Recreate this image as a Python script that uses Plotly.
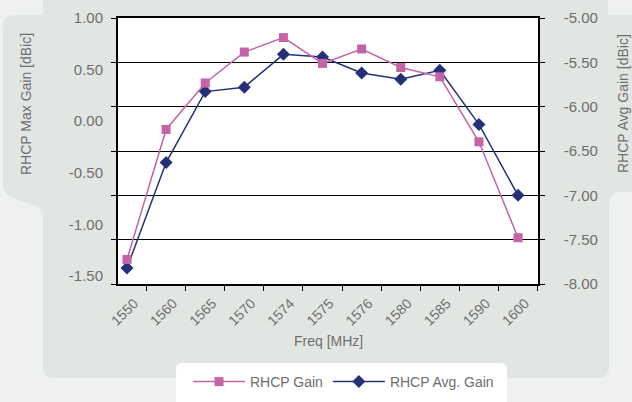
import plotly.graph_objects as go

freqs = ["1550", "1560", "1565", "1570", "1574", "1575", "1576", "1580", "1585", "1590", "1600"]
max_gain = [-1.34, -0.08, 0.37, 0.67, 0.81, 0.56, 0.70, 0.52, 0.43, -0.20, -1.13]
avg_gain = [-7.82, -6.63, -5.83, -5.78, -5.41, -5.44, -5.62, -5.69, -5.59, -6.20, -7.00]
left_ticks = [1.0, 0.5, 0.0, -0.5, -1.0, -1.5]
right_ticks = [-5.0, -5.5, -6.0, -6.5, -7.0, -7.5, -8.0]

PINK = "#c264a6"
BLUE = "#253079"
GRAY = "#6e6e6e"
FONT = "Liberation Sans"

W, H = 632, 402
L, R, T, B = 118, 94, 18, 118
PW, PH = W - L - R, H - T - B


def px(x):
    return (x - L) / PW


def py(y):
    return (H - B - y) / PH


def path(cmds):
    out = []
    for c in cmds:
        if isinstance(c, str):
            out.append(c)
        else:
            out.append("%.5f,%.5f" % (px(c[0]), py(c[1])))
    return " ".join(out)


panel = path([
    "M", (43, -10), "L", (608, -10), "L", (608, 15), "L", (645, 15), "L", (645, 192),
    "L", (622, 192), "Q", (609, 192), (609, 205), "L", (609, 368), "Q", (609, 378), (599, 378),
    "L", (53, 378), "Q", (43, 378), (43, 368), "L", (43, 215),
    "C", (43, 200), (3, 205), (3, 185), "L", (3, 27), "Q", (3, 15), (15, 15),
    "L", (43, 15), "Z",
    "M", (L, T), "L", (L, H - B), "L", (W - R, H - B), "L", (W - R, T), "Z",
])
legend_box = path([
    "M", (182, 363), "L", (501, 363), "Q", (507, 363), (507, 369), "L", (507, 410),
    "L", (176, 410), "L", (176, 369), "Q", (176, 363), (182, 363), "Z",
])

fig = go.Figure()
fig.add_trace(go.Scatter(
    x=freqs, y=max_gain, name="RHCP Gain", yaxis="y2", mode="lines+markers",
    line=dict(color=PINK, width=1.5), marker=dict(symbol="square", size=9, color=PINK),
))
fig.add_trace(go.Scatter(
    x=freqs, y=avg_gain, name="RHCP Avg. Gain", yaxis="y", mode="lines+markers",
    line=dict(color=BLUE, width=1.5), marker=dict(symbol="diamond", size=10, color=BLUE),
))

tickfont = dict(family=FONT, size=15, color=GRAY)
titlefont = dict(family=FONT, size=14, color=GRAY)

fig.update_layout(
    width=W, height=H,
    margin=dict(l=L, r=R, t=T, b=B, autoexpand=False),
    paper_bgcolor="#eef0f1",
    plot_bgcolor="white",
    showlegend=True,
    legend=dict(
        orientation="h", x=px(188), y=py(382), xanchor="left", yanchor="middle",
        bgcolor="rgba(0,0,0,0)", font=dict(family=FONT, size=14, color=GRAY),
        itemwidth=52, traceorder="normal",
    ),
    xaxis=dict(
        type="category", range=[-0.23, 10.51], tickson="boundaries", automargin=False,
        ticks="outside", ticklen=5, tickcolor="black", showline=True, linecolor="black",
        linewidth=1.5, mirror=True, showgrid=False, tickangle=-45,
        tickfont=dict(family=FONT, size=14, color=GRAY), ticklabelshift=7,
        ticklabelstandoff=4,
    ),
    yaxis=dict(
        side="right", range=[-8, -5], tickvals=right_ticks,
        ticktext=["%.2f" % v for v in right_ticks],
        ticks="outside", ticklen=5, tickcolor="black", showline=True, linecolor="black",
        linewidth=1.5, mirror="ticks", showgrid=True, gridcolor="black", gridwidth=1,
        zeroline=False, automargin=False, tickfont=tickfont, ticklabelstandoff=16,
    ),
    yaxis2=dict(
        overlaying="y", side="left", range=[-1.578, 1.0], tickvals=left_ticks,
        ticktext=["%.2f" % v for v in left_ticks],
        ticks="", showline=False, showgrid=False, zeroline=False,
        tickfont=tickfont, ticklabelstandoff=14, automargin=False,
    ),
    shapes=[
        dict(type="path", path=panel, xref="paper", yref="paper", layer="below",
             fillcolor="#e2e6e3", line=dict(width=0)),
        dict(type="path", path=legend_box, xref="paper", yref="paper", layer="below",
             fillcolor="white", line=dict(width=0)),
    ],
    annotations=[
        dict(text="Freq [MHz]", x=px(328), y=py(341), xref="paper", yref="paper",
             xanchor="center", yanchor="middle", showarrow=False, font=titlefont),
        dict(text="RHCP Max Gain [dBic]", x=px(26), y=py(104), xref="paper", yref="paper",
             xanchor="center", yanchor="middle", showarrow=False, textangle=-90,
             font=titlefont),
        dict(text="RHCP Avg Gain [dBic]", x=px(623), y=py(104), xref="paper", yref="paper",
             xanchor="center", yanchor="middle", showarrow=False, textangle=-90,
             font=titlefont),
    ],
)

fig.write_html("out.html", config={"displayModeBar": False},
               post_script="document.body.style.margin='0px';")
